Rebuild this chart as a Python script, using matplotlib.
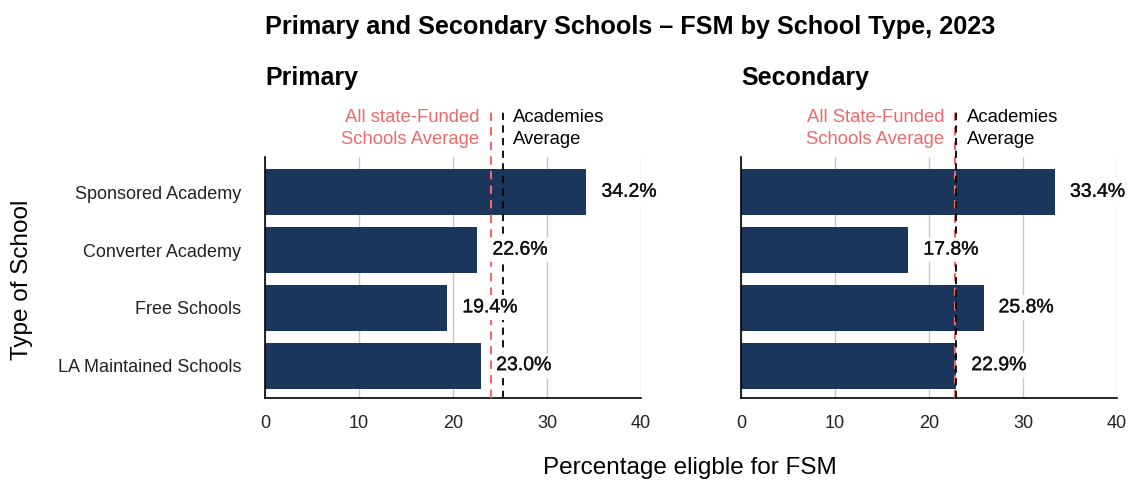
import matplotlib as mpl
import matplotlib.pyplot as plt
import matplotlib.patheffects as pe

mpl.rcParams.update({
    "font.family": ["Liberation Sans", "DejaVu Sans"],
    "axes.spines.top": False, "axes.spines.right": False,
})

SCHOOL_TYPES = ["Sponsored Academy", "Converter Academy", "Free Schools", "LA Maintained Schools"]
PRIMARY = [34.2, 22.6, 19.4, 23.0]
SECONDARY = [33.4, 17.8, 25.8, 22.9]
# all state-funded average, academies average
PRIMARY_AVG = [24.0, 25.3]
SECONDARY_AVG = [22.8, 22.9]
PANEL_TITLES = ["Primary", "Secondary"]
STATE_LABELS = ["All state-Funded\nSchools Average", "All State-Funded\nSchools Average"]
XTICKS = [0, 10, 20, 30, 40]

BAR = "#1B365D"
RED = "#F0686A"

fig = plt.figure(figsize=(11.31, 4.84), dpi=100, facecolor="white")
ax1 = fig.add_axes([0.2343, 0.1777, 0.3324, 0.4979])
ax2 = fig.add_axes([0.6552, 0.1777, 0.3324, 0.4979])

ypos = list(range(len(SCHOOL_TYPES)))[::-1]

for i, (ax, vals, avg) in enumerate([(ax1, PRIMARY, PRIMARY_AVG), (ax2, SECONDARY, SECONDARY_AVG)]):
    ax.set_axisbelow(True)
    ax.grid(axis="x", color="#c8c8c8", lw=1)
    ax.barh(ypos, vals, height=0.8, color=BAR, zorder=2)
    ax.set_xlim(0, 40)
    ax.set_ylim(-0.56, 3.61)
    ax.set_xticks(XTICKS)
    ax.tick_params(length=0, labelsize=13)
    ax.tick_params(axis="x", colors="#222222", pad=12)
    ax.set_yticks(ypos)
    if i == 0:
        ax.set_yticklabels(SCHOOL_TYPES, color="#222222")
        ax.tick_params(axis="y", pad=17)
    else:
        ax.set_yticklabels([])
    for sp in ["left", "bottom"]:
        ax.spines[sp].set_color("black")
        ax.spines[sp].set_linewidth(1.2)

    state, acad = avg
    ax.plot([state, state], [-0.56, 4.44], color=RED, ls=(0, (4, 3)), lw=1.5, clip_on=False, zorder=3)
    ax.plot([acad, acad], [-0.56, 4.44], color="black", ls=(0, (4, 3)), lw=1.3, clip_on=False, zorder=3)
    ax.text(min(state, acad) - 1.2, 4.10, STATE_LABELS[i], color=RED, ha="right", va="center",
            fontsize=13.3, linespacing=1.42)
    ax.text(max(state, acad) + 1.1, 4.10, "Academies\nAverage", color="black", ha="left", va="center",
            fontsize=13.3, linespacing=1.42)

    for y, v in zip(ypos, vals):
        ax.text(v + 1.6, y, f"{v:.1f}%", ha="left", va="center", fontsize=14, color="#111111",
                zorder=4, bbox=dict(boxstyle="square,pad=0.2", fc="white", ec="none"),
                path_effects=[pe.withStroke(linewidth=0.25, foreground="#111111")])

    ax.text(0, 1.328, PANEL_TITLES[i], transform=ax.transAxes, fontsize=18, fontweight="bold",
            ha="left", va="center")

fig.text(265 / 1131, 1 - 27 / 484, "Primary and Secondary Schools – FSM by School Type, 2023",
         fontsize=18.2, fontweight="bold", ha="left", va="center")
fig.text(690 / 1131, 1 - 468 / 484, "Percentage eligble for FSM", fontsize=17.5, ha="center", va="center")
fig.text(22 / 1131, 1 - 280 / 484, "Type of School", fontsize=17.5, ha="center", va="center", rotation=90)

fig.savefig("out.png", dpi=100, facecolor="white")
